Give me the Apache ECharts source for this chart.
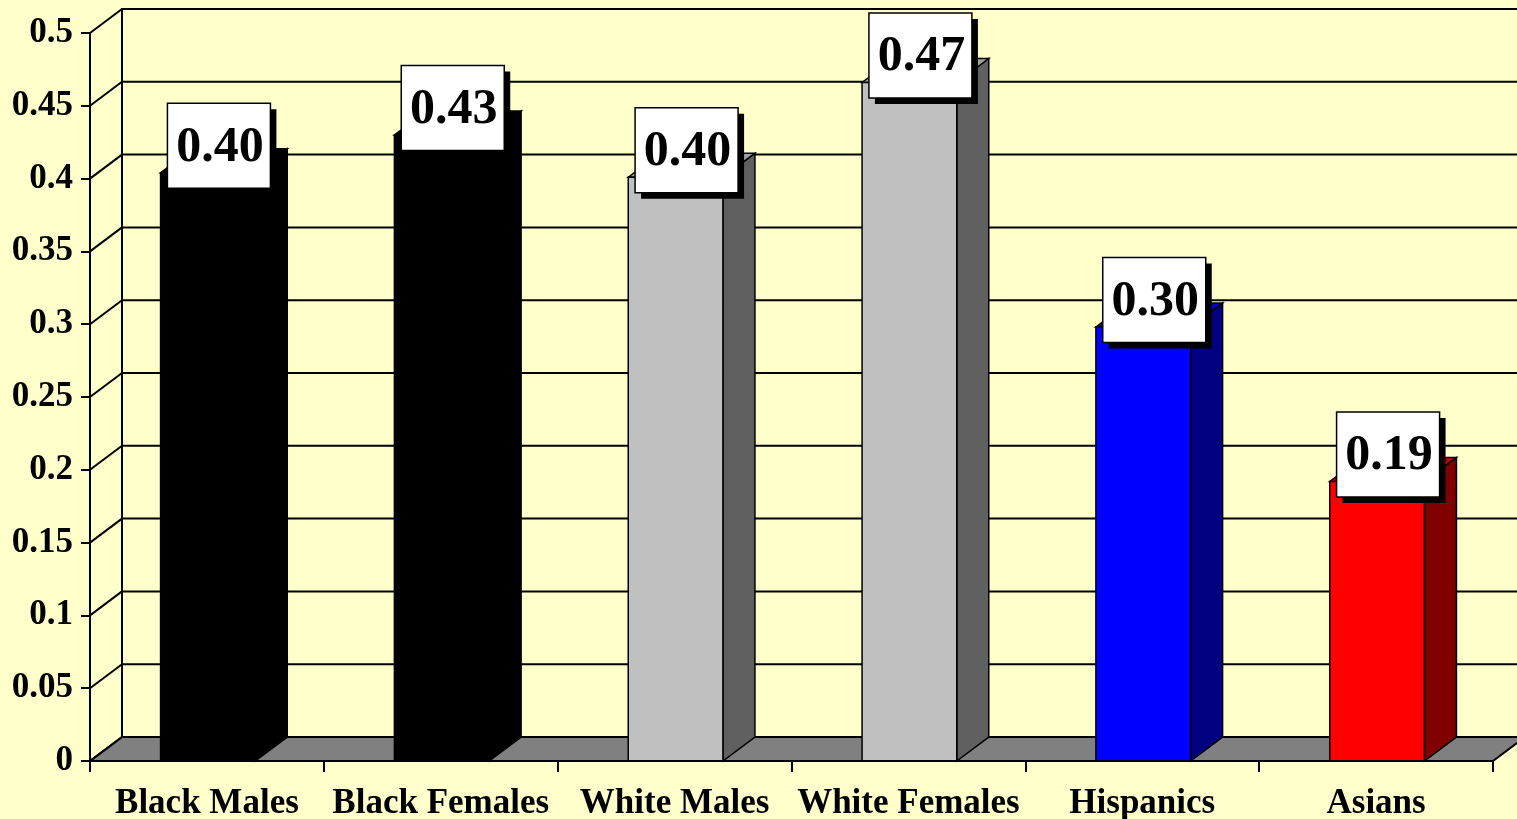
<!DOCTYPE html>
<html>
<head>
<meta charset="utf-8">
<script src="https://cdn.jsdelivr.net/npm/echarts@6/dist/echarts.min.js"></script>
<style>
html,body{margin:0;padding:0;background:#FFFFCC;}
#main{width:1517px;height:819px;}
</style>
</head>
<body>
<div id="main"></div>
<script>
// data
var categories=["Black Males","Black Females","White Males","White Females","Hispanics","Asians"];
var values=[0.404,0.430,0.401,0.466,0.298,0.192];
var yMin=0, yMax=0.5, yStep=0.05;

// colours of the faces
var frontColors=["#000000","#000000","#C0C0C0","#C0C0C0","#0000FF","#FF0000"];
var sideColors=["#000000","#000000","#606060","#606060","#000080","#800000"];
var topColors=["#000000","#000000","#A0A0A0","#A0A0A0","#0000C0","#C00000"];

var DX=32, DY=-24; //depth of the 3D box
var FONT='"Liberation Serif","Times New Roman",serif';

var myChart=echarts.init(document.getElementById('main'));

//back wall, side wall, floor and grid lines
function renderWalls(params,api){
	var cs=params.coordSys;
	var x0=cs.x, x1=cs.x+cs.width, yt=cs.y, yb=cs.y+cs.height;
	var kids=[];
	kids.push({type:'polygon',shape:{points:[[x0+DX,yt+DY],[x1+DX,yt+DY],[x1+DX,yb+DY],[x0+DX,yb+DY]]},
		style:{fill:'#FFFFCC',stroke:'#000',lineWidth:2}});
	kids.push({type:'polygon',shape:{points:[[x0,yb],[x1,yb],[x1+DX,yb+DY],[x0+DX,yb+DY]]},
		style:{fill:'#808080',stroke:'#000',lineWidth:2}});
	var n=Math.round((yMax-yMin)/yStep);
	for(var i=0;i<=n;i++){
		var y=api.coord([0,yMin+i*yStep])[1];
		kids.push({type:'line',shape:{x1:x0+DX,y1:y+DY,x2:x1+DX,y2:y+DY},style:{stroke:'#000',lineWidth:2}});
		kids.push({type:'line',shape:{x1:x0,y1:y,x2:x0+DX,y2:y+DY},style:{stroke:'#000',lineWidth:2}});
	}
	return {type:'group',children:kids};
}

//3D bars with the value boxes
function renderBars(params,api){
	var i=params.dataIndex;
	var val=api.value(1);
	var top=api.coord([api.value(0),val]);
	var base=api.coord([api.value(0),0]);
	var w=api.size([1,0])[0]*0.405;
	var cx=top[0]+1, xa=cx-w/2, xb=cx+w/2, yt=top[1], yb=base[1];
	var line={stroke:'#000',lineWidth:1.5};
	var kids=[];
	kids.push({type:'polygon',shape:{points:[[xb,yt],[xb+DX,yt+DY],[xb+DX,yb+DY],[xb,yb]]},
		style:Object.assign({fill:sideColors[i]},line)});
	kids.push({type:'polygon',shape:{points:[[xa,yt],[xb,yt],[xb+DX,yt+DY],[xa+DX,yt+DY]]},
		style:Object.assign({fill:topColors[i]},line)});
	kids.push({type:'rect',shape:{x:xa,y:yt,width:w,height:yb-yt},
		style:Object.assign({fill:frontColors[i]},line)});
	//label box
	var lx=cx+11, ly=yt-27, bw=103, bh=85;
	kids.push({type:'rect',shape:{x:lx-bw/2+6,y:ly-bh/2+6,width:bw,height:bh},style:{fill:'#000'}});
	kids.push({type:'rect',shape:{x:lx-bw/2,y:ly-bh/2,width:bw,height:bh},style:{fill:'#FFFFFF',stroke:'#000',lineWidth:1.5}});
	kids.push({type:'text',style:{text:val.toFixed(2),x:lx+1,y:ly+2,
		textAlign:'center',textVerticalAlign:'middle',align:'center',verticalAlign:'middle',
		font:'bold 50px '+FONT,fill:'#000'}});
	return {type:'group',children:kids};
}

var option={
	backgroundColor:'#FFFFCC',
	animation:false,
	grid:{left:90,right:24,top:33,bottom:58,containLabel:false,outerBoundsMode:'none'},
	xAxis:{
		type:'category',
		data:categories,
		boundaryGap:true,
		axisLine:{show:true,lineStyle:{color:'#000',width:2}},
		axisTick:{show:true,length:11,lineStyle:{color:'#000',width:2}},
		axisLabel:{color:'#000',fontFamily:FONT,fontWeight:'bold',fontSize:35,margin:25,interval:0},
		z:5
	},
	yAxis:{
		type:'value',
		min:yMin,max:yMax,interval:yStep,
		axisLine:{show:true,lineStyle:{color:'#000',width:2}},
		axisTick:{show:true,length:9,lineStyle:{color:'#000',width:2}},
		splitLine:{show:false},
		axisLabel:{color:'#000',fontFamily:FONT,fontWeight:'bold',fontSize:35,margin:17},
		z:5
	},
	series:[{
		type:'custom',
		silent:true,
		clip:false,
		z:1,
		renderItem:renderWalls,
		encode:{x:0,y:1},
		data:[[0,0]]
	},{
		type:'custom',
		silent:true,
		clip:false,
		z:3,
		renderItem:renderBars,
		encode:{x:0,y:1},
		data:values.map(function(v,i){return [i,v];})
	}]
};

myChart.setOption(option);
</script>
</body>
</html>
